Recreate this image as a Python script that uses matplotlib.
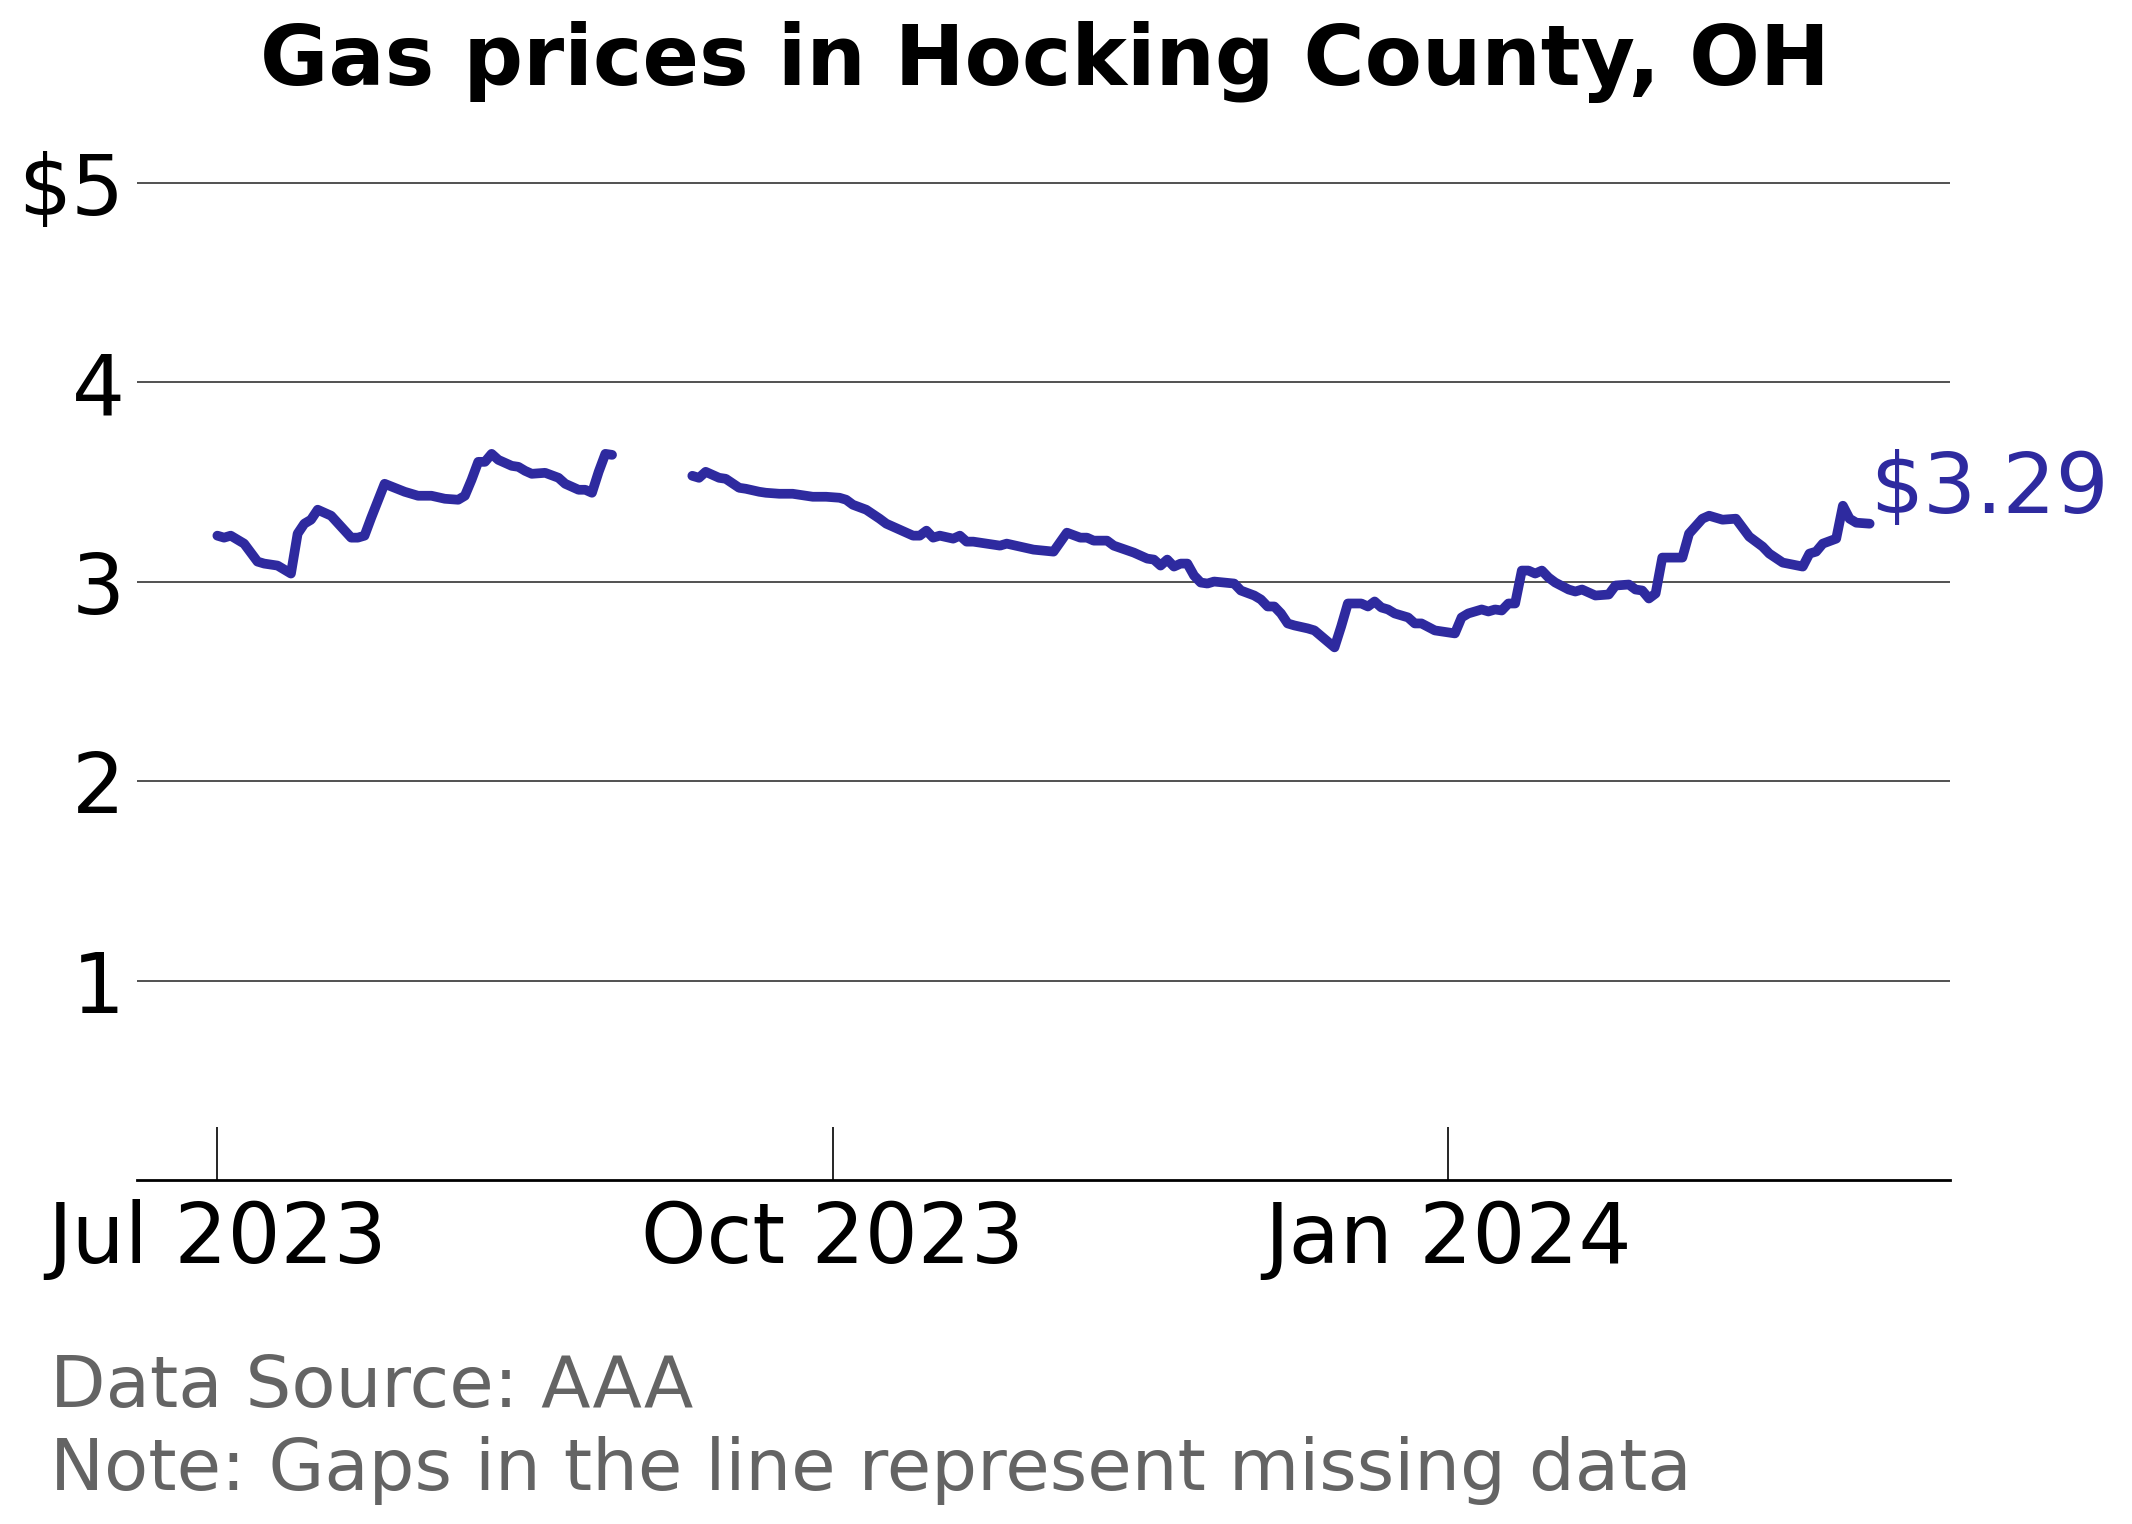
import numpy as np
import pandas as pd
import matplotlib
matplotlib.use("Agg")
from matplotlib import pyplot as plt, dates as mdates, ticker as mticker

LINECOLOR = '#2e2a9f'
GRAYTEXT = '#646464'

START = '2023-07-01'
# days since Jul 1 2023, NaN price = missing data (gap)
days = [0, 1, 2, 3, 4, 6, 7, 9, 10, 11, 12, 13, 14, 15, 17, 20, 21, 22, 23, 25,
        28, 29, 30, 32, 34, 36, 37, 38, 39, 40, 41, 42, 44, 45, 46, 47, 49, 51, 52, 54,
        55, 56, 57, 58, 59,
        65,
        71, 72, 73, 75, 76, 78, 79, 81, 82, 84, 86, 88, 89, 91, 93, 94, 95, 97, 99, 100,
        102, 104, 105, 106, 107, 108, 110, 111, 112, 113, 115, 117, 118, 120, 122, 125, 127, 129, 130, 131,
        133, 134, 137, 139, 140, 141, 142, 143, 144, 145, 146, 147, 148, 149, 152, 153, 155, 156, 157, 158,
        159, 160, 161, 163, 164, 167, 168, 169, 171, 172, 173, 174, 175, 176, 178, 179, 180, 182, 185, 186,
        187, 189, 190, 191, 192, 193, 194, 195, 196, 197, 198, 199, 200, 202, 203, 204, 206, 208, 209, 211,
        212, 213, 214, 215, 216, 219, 220, 222, 223, 225, 227, 229, 231, 232, 234, 237, 238, 239, 240, 242,
        243, 244, 245, 247]
prices = [3.23, 3.22, 3.23, 3.21, 3.19, 3.10, 3.09, 3.08, 3.06, 3.04, 3.24, 3.29, 3.31, 3.36, 3.33, 3.22, 3.22, 3.23, 3.32, 3.49,
          3.45, 3.44, 3.43, 3.43, 3.415, 3.41, 3.43, 3.51, 3.60, 3.60, 3.64, 3.61, 3.58, 3.575, 3.555, 3.54, 3.545, 3.52, 3.49, 3.46,
          3.46, 3.445, 3.55, 3.64, 3.635,
          np.nan,
          3.53, 3.52, 3.55, 3.52, 3.515, 3.47, 3.465, 3.45, 3.445, 3.44, 3.44, 3.43, 3.425, 3.425, 3.42, 3.41, 3.385, 3.36, 3.315, 3.29,
          3.26, 3.23, 3.23, 3.255, 3.22, 3.23, 3.215, 3.23, 3.20, 3.20, 3.19, 3.18, 3.19, 3.175, 3.16, 3.15, 3.245, 3.22, 3.22, 3.205,
          3.205, 3.18, 3.145, 3.115, 3.11, 3.08, 3.11, 3.075, 3.09, 3.09, 3.03, 2.995, 2.99, 3.00, 2.99, 2.955, 2.93, 2.91, 2.875, 2.875,
          2.84, 2.79, 2.78, 2.765, 2.755, 2.67, 2.775, 2.89, 2.89, 2.875, 2.90, 2.87, 2.86, 2.84, 2.82, 2.79, 2.79, 2.755, 2.74, 2.82,
          2.84, 2.86, 2.85, 2.86, 2.855, 2.89, 2.89, 3.055, 3.055, 3.04, 3.055, 3.02, 2.995, 2.96, 2.95, 2.96, 2.93, 2.935, 2.98, 2.985,
          2.96, 2.955, 2.915, 2.94, 3.12, 3.12, 3.24, 3.315, 3.33, 3.31, 3.315, 3.225, 3.175, 3.14, 3.095, 3.075, 3.14, 3.15, 3.19, 3.215,
          3.38, 3.315, 3.295, 3.29]

YTICKS = [1, 2, 3, 4, 5]
XTICKS = ['2023-07-01', '2023-10-01', '2024-01-01']

dates = pd.Timestamp(START) + pd.to_timedelta(days, unit='D')

fig = plt.figure(figsize=(10.66, 7.62), dpi=200)
ax = fig.add_axes([0.0643, 0.2257, 0.8503, 0.6807])

ax.plot(dates, prices, color=LINECOLOR, lw=3.5,
        solid_capstyle='round', solid_joinstyle='round', zorder=3)

# end label
ax.annotate('$%.2f' % prices[-1], xy=(dates[-1], prices[-1]), xytext=(0, 4),
            textcoords='offset points', fontsize=30, color=LINECOLOR,
            ha='left', va='baseline')

ax.set_ylim(0, 5.2)
ax.set_xlim(pd.Timestamp('2023-06-19'), pd.Timestamp('2024-03-16'))

ax.set_yticks(YTICKS)
ax.yaxis.set_major_formatter(mticker.FuncFormatter(lambda v, p: '$%d' % v if v == 5 else '%d' % v))
ax.tick_params(axis='y', length=0, pad=4.5, labelsize=30)
ax.yaxis.grid(True, color='#333333', lw=0.6)
ax.set_axisbelow(True)

ax.set_xticks(pd.to_datetime(XTICKS))
ax.xaxis.set_major_formatter(mdates.DateFormatter('%b %Y'))
ax.tick_params(axis='x', direction='in', length=19, width=0.6, pad=7, labelsize=30)

for s in ['top', 'right', 'left']:
    ax.spines[s].set_visible(False)
ax.spines['bottom'].set_linewidth(1.0)
ax.spines['bottom'].set_color('black')

fig.text(0.4899, 0.9442, 'Gas prices in Hocking County, OH', fontsize=30,
         fontweight='bold', ha='center', va='baseline')
fig.text(0.0235, 0.0768, 'Data Source: AAA', fontsize=26, color=GRAYTEXT, va='baseline')
fig.text(0.0235, 0.0223, 'Note: Gaps in the line represent missing data', fontsize=26,
         color=GRAYTEXT, va='baseline')

fig.savefig('out.png', dpi=200)
